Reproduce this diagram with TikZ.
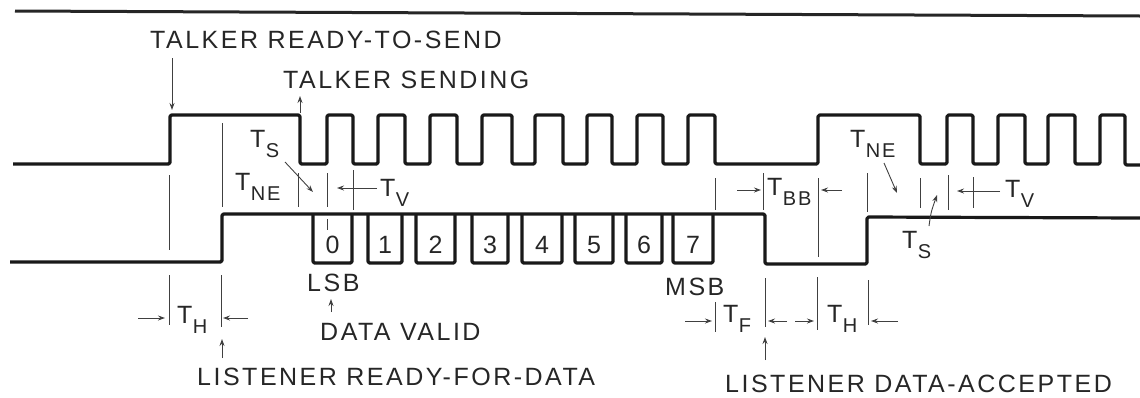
\documentclass[tikz,border=0pt]{standalone}
\usepackage{fontspec}
\setmainfont{Liberation Sans}[LetterSpace=10]
\usetikzlibrary{arrows.meta}
\newcommand{\Tsb}[1]{T\kern0.3pt\raisebox{-10pt}{\fontsize{20}{20}\selectfont #1}}
\begin{document}
\begin{tikzpicture}[x=1pt,y=-1pt,
  sig/.style={line width=3.2pt,line join=round,rounded corners=1.5pt,color=black!90},
  thin/.style={line width=0.9pt,color=black!75},
  arr/.style={thin,-{Stealth[length=7pt,width=5pt]}},
  lbl/.style={inner sep=0pt,anchor=base west,font=\fontsize{25}{25}\selectfont,text=black!85},
  dig/.style={inner sep=0pt,anchor=base,font=\fontsize{25}{25}\selectfont,text=black!85}]
\useasboundingbox (0,0) rectangle (1140,397);
% top rule
\coordinate (r1) at (15,11); \coordinate (r2) at (1140,16);
\draw[line width=3pt,color=black!85] (r1) -- (r2);
% talker signal
\draw[sig] (13,164) -- (170,164) -- (170,115) -- (300,115) -- (300,164)
 -- (327,164) -- (327,115) -- (353,115) -- (353,164)
 -- (378,164) -- (378,115) -- (405,115) -- (405,164)
 -- (430,164) -- (430,115) -- (457,115) -- (457,164)
 -- (482,164) -- (482,115) -- (512,115) -- (512,164)
 -- (535,164) -- (535,115) -- (563,115) -- (563,164)
 -- (587,164) -- (587,115) -- (612,115) -- (612,164)
 -- (637,164) -- (637,115) -- (663,115) -- (663,164)
 -- (688,164) -- (688,115) -- (715,115) -- (715,164)
 -- (818,164) -- (818,115) -- (920,115) -- (920,164)
 -- (947,164) -- (947,115) -- (973,115) -- (973,164)
 -- (998,164) -- (998,115) -- (1025,115) -- (1025,164)
 -- (1048,164) -- (1048,115) -- (1075,115) -- (1075,164)
 -- (1100,164) -- (1100,115) -- (1125,115) -- (1125,165) -- (1140,165);
% listener signal
\draw[sig] (10,262) -- (222,262) -- (222,214) -- (765,214) -- (765,264)
 -- (867,264) -- (867,217) -- (1140,218);
% data boxes
\foreach \a/\b/\d in {313/352/0,368/402/1,416/455/2,472/508/3,522/562/4,575/613/5,626/662/6,673/713/7}{
  \draw[sig] (\a,214) -- (\a,263) -- (\b,263) -- (\b,214);
  \node[dig] (bit\d) at ({(\a+\b)/2},253) {\d};
}
% thin marker lines
\draw[thin] (169,175) -- (169,250) (169,275) -- (169,325);
\draw[thin] (222,123) -- (222,207) (221,275) -- (221,327);
\draw[thin] (298,173) -- (298,207);
\draw[thin] (327,173) -- (327,207) (327,219) -- (327,230);
\draw[thin] (353,170) -- (353,210);
\draw[thin] (715,178) -- (715,210);
\draw[thin] (763,173) -- (763,210);
\draw[thin] (818,178) -- (818,257);
\draw[thin] (867,173) -- (867,212);
\draw[thin] (920,178) -- (920,208);
\draw[thin] (948,175) -- (948,210);
\draw[thin] (973,177) -- (973,208);
\draw[thin] (715,302) -- (715,332);
\draw[thin] (765,278) -- (765,327);
\draw[thin] (817,277) -- (817,330);
\draw[thin] (868,280) -- (868,325);
% labels
\node[lbl] (rts) at (150,48) {TALKER READY-TO-SEND};
\node[lbl] (ts) at (283,88) {TALKER SENDING};
\node[lbl] (lsb) at (307,291) {LSB};
\node[lbl] (dv) at (320,340) {DATA VALID};
\node[lbl] (msb) at (665,295) {MSB};
\node[lbl] (lrfd) at (197,385) {LISTENER READY-FOR-DATA};
\node[lbl] (lda) at (725,392) {LISTENER DATA-ACCEPTED};
\node[lbl] (tsA) at (250,147) {\Tsb{S}};
\node[lbl] (tneA) at (235,190) {\Tsb{NE}};
\node[lbl] (tvA) at (380,196) {\Tsb{V}};
\node[lbl] (thA) at (177,323) {\Tsb{H}};
\node[lbl] (tbb) at (767,195) {\Tsb{BB}};
\node[lbl] (tneB) at (850,147) {\Tsb{NE}};
\node[lbl] (tvB) at (1005,197) {\Tsb{V}};
\node[lbl] (tsB) at (902,248) {\Tsb{S}};
\node[lbl] (tf) at (723,322) {\Tsb{F}};
\node[lbl] (thB) at (827,322) {\Tsb{H}};
% arrows
\coordinate (a1) at (172,110); \draw[arr] (172,58) -- (a1);
\coordinate (a2) at (300,96); \draw[arr] (300,113) -- (a2);
\coordinate (a3) at (313,192); \draw[arr] (285,162) -- (a3);
\coordinate (a4) at (337,188); \draw[arr] (377,188) -- (a4);
\coordinate (a5) at (165,318); \draw[arr] (138,318) -- (a5);
\coordinate (a6) at (223,318); \draw[arr] (248,318) -- (a6);
\coordinate (a7) at (222,339); \draw[arr] (222,358) -- (a7);
\coordinate (a8) at (331,299); \draw[arr] (331,312) -- (a8);
\coordinate (a9) at (712,321); \draw[arr] (685,321) -- (a9);
\coordinate (a10) at (768,321); \draw[arr] (787,321) -- (a10);
\coordinate (a11) at (814,321); \draw[arr] (795,321) -- (a11);
\coordinate (a12) at (871,321); \draw[arr] (898,321) -- (a12);
\coordinate (a13) at (765,337); \draw[arr] (765,360) -- (a13);
\coordinate (a14) at (761,190); \draw[arr] (737,190) -- (a14);
\coordinate (a15) at (821,190); \draw[arr] (842,190) -- (a15);
\coordinate (a16) at (897,193); \draw[arr] (884,163) -- (a16);
\coordinate (a17) at (957,191); \draw[arr] (1000,191) -- (a17);
\coordinate (a18) at (937,195); \draw[arr] (929,226) .. controls (931,212) .. (a18);
\end{tikzpicture}
\end{document}
